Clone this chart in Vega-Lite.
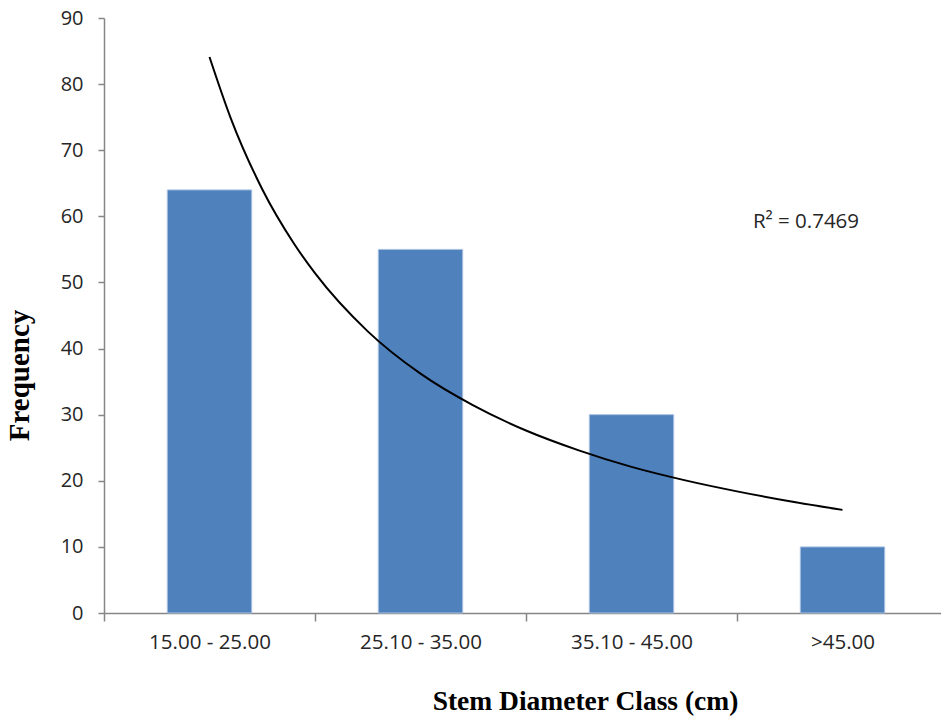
{
  "$schema": "https://vega.github.io/schema/vega-lite/v6.json",
  "autosize": "none",
  "width": 844,
  "height": 595,
  "padding": {"left": 104, "top": 18, "right": 0, "bottom": 104},
  "background": "white",
  "config": {"view": {"stroke": null}},
  "datasets": {
    "bars": [
      {"cls": "15.00 - 25.00", "freq": 64},
      {"cls": "25.10 - 35.00", "freq": 55},
      {"cls": "35.10 - 45.00", "freq": 30},
      {"cls": ">45.00", "freq": 10}
    ],
    "trend": [
      {"x": 1.0, "y": 84.1},
      {"x": 1.1, "y": 74.9},
      {"x": 1.25, "y": 64.1},
      {"x": 1.4, "y": 55.9},
      {"x": 1.5, "y": 51.4},
      {"x": 1.75, "y": 42.6},
      {"x": 2.0, "y": 36.2},
      {"x": 2.25, "y": 31.4},
      {"x": 2.5, "y": 27.6},
      {"x": 2.75, "y": 24.6},
      {"x": 3.0, "y": 22.1},
      {"x": 3.25, "y": 20.1},
      {"x": 3.5, "y": 18.4},
      {"x": 3.75, "y": 16.9},
      {"x": 4.0, "y": 15.6}
    ]
  },
  "layer": [
    {
      "data": {"name": "bars"},
      "mark": {"type": "bar", "width": {"band": 0.4}, "color": "#4F81BD", "stroke": "#A9C1E0", "strokeWidth": 1},
      "encoding": {
        "x": {
          "field": "cls", "type": "nominal", "sort": null,
          "scale": {"paddingInner": 0, "paddingOuter": 0},
          "axis": {
            "title": "Stem Diameter Class (cm)",
            "titleFont": "Liberation Serif", "titleFontSize": 27.5, "titleFontWeight": "bold", "titleColor": "#000000",
            "titlePadding": 35, "titleX": 481,
            "labelAngle": 0, "labelFont": "Open Sans", "labelFontSize": 20.5, "labelColor": "#262626",
            "labelPadding": 11, "tickBand": "extent", "tickSize": 8,
            "tickColor": "#868686", "domainColor": "#868686", "domainWidth": 1.5, "tickWidth": 1.5
          }
        },
        "y": {
          "field": "freq", "type": "quantitative",
          "scale": {"domain": [0, 90], "nice": false},
          "axis": {
            "title": "Frequency",
            "titleFont": "Liberation Serif", "titleFontSize": 29, "titleFontWeight": "bold", "titleColor": "#000000",
            "titlePadding": 26, "titleY": 357,
            "values": [0, 10, 20, 30, 40, 50, 60, 70, 80, 90],
            "grid": false, "labelFont": "Open Sans", "labelFontSize": 20, "labelColor": "#262626",
            "labelPadding": 15, "tickSize": 6,
            "tickColor": "#868686", "domainColor": "#868686", "domainWidth": 1.5, "tickWidth": 1.5
          }
        }
      }
    },
    {
      "layer": [
        {
          "data": {"name": "trend"},
          "mark": {"type": "line", "color": "#000000", "strokeWidth": 2, "interpolate": "monotone"},
          "encoding": {
            "x": {"field": "x", "type": "quantitative", "scale": {"domain": [0.5, 4.5], "nice": false, "zero": false}, "axis": null},
            "y": {"field": "y", "type": "quantitative", "scale": {"domain": [0, 90], "nice": false}}
          }
        },
        {
          "data": {"values": [{"label": "R² = 0.7469"}]},
          "mark": {"type": "text", "font": "Open Sans", "fontSize": 20.5, "color": "#262626", "align": "center", "baseline": "middle"},
          "encoding": {
            "text": {"field": "label"},
            "x": {"datum": 3.827, "type": "quantitative"},
            "y": {"datum": 59.1, "type": "quantitative"}
          }
        }
      ]
    }
  ],
  "resolve": {"scale": {"x": "independent"}}
}
